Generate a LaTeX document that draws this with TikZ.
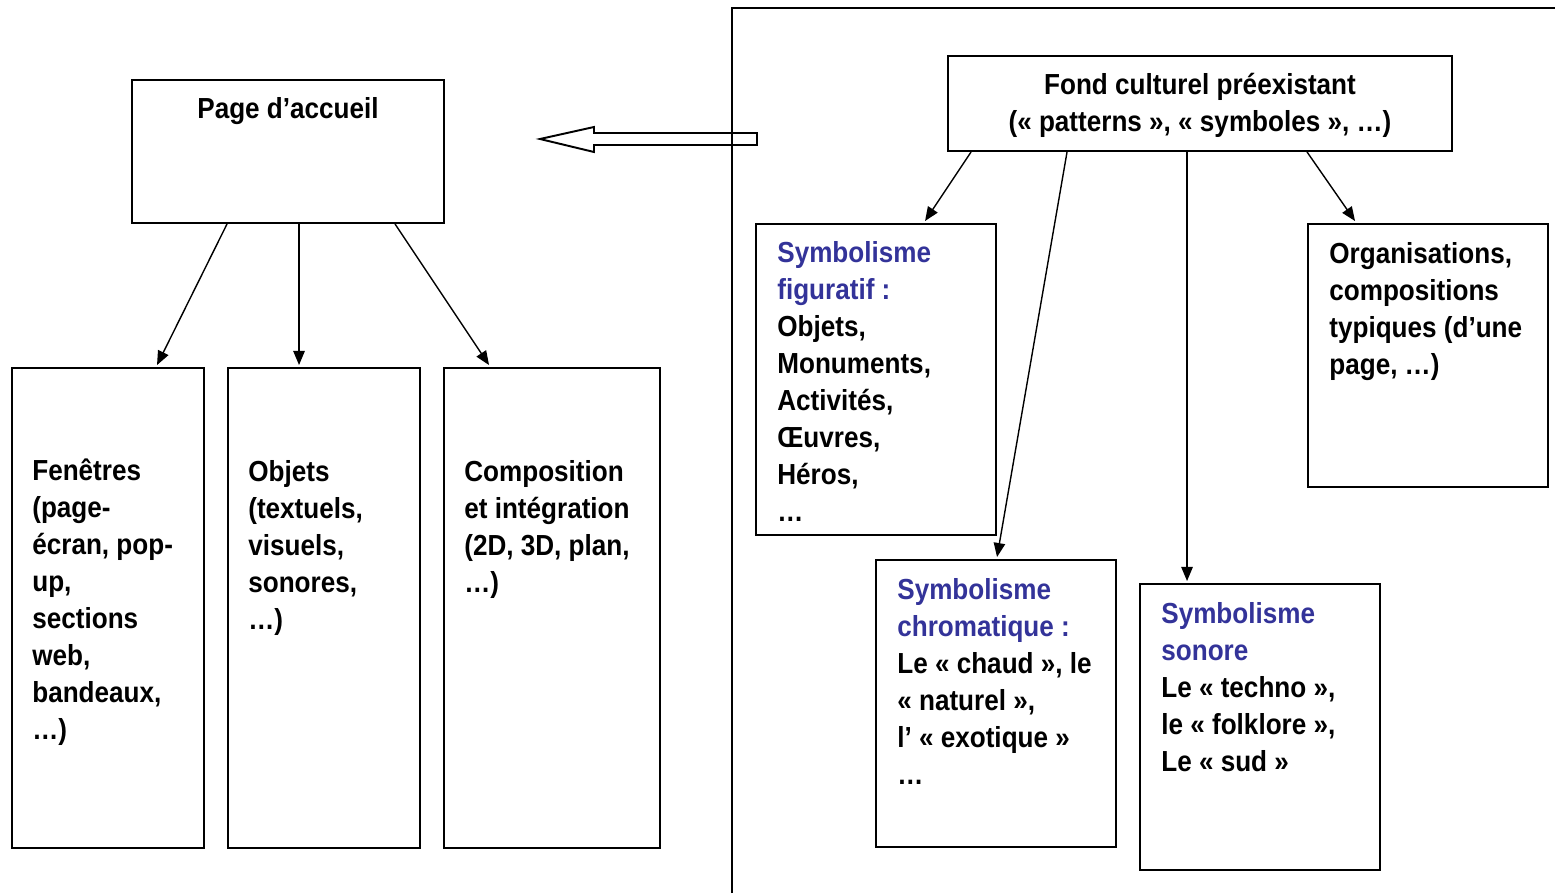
\documentclass[tikz,border=0pt]{standalone}
\usepackage{fontspec}
\setmainfont{Liberation Sans}[FakeStretch=0.9]
\usetikzlibrary{arrows.meta,calc,fit}
\definecolor{symblue}{RGB}{51,51,153}
\newcommand{\symb}[1]{\textcolor{symblue}{#1}}

\begin{document}
\begin{tikzpicture}[x=0.02cm,y=-0.02cm,
    box/.style={draw, line width=1.1pt, inner sep=0pt},
    txt/.style={inner sep=0pt, align=left, font=\fontsize{16.5}{21}\selectfont\bfseries},
    arr/.style={line width=0.8pt, -{Triangle[length=8pt,width=6.5pt]}}]
    \useasboundingbox (0,0) rectangle (1555,893);
    % left part (text nodes sit on the baseline of their last line)
    \node[box, fit={(132,80)(444,223)}] (accueil) {};
    \node[box, fit={(12,368)(204,848)}] (fen) {};
    \node[box, fit={(228,368)(420,848)}] (obj) {};
    \node[box, fit={(444,368)(660,848)}] (compo) {};
    \node[txt, align=center, anchor=base] (taccueil) at (288,118) {Page d’accueil};
    \node[txt, anchor=base west] (tfen) at (32,739) {Fenêtres\\(page-\\écran, pop-\\up,\\sections\\web,\\bandeaux,\\…)};
    \node[txt, anchor=base west] (tobj) at (248,629) {Objets\\(textuels,\\visuels,\\sonores,\\…)};
    \node[txt, anchor=base west] (tcompo) at (464,592) {Composition\\et intégration\\(2D, 3D, plan,\\…)};
    \draw[arr] ($(accueil.south west)+(96,0)$) -- ($(fen.north west)+(146,-2)$);
    \draw[arr] ($(accueil.south west)+(168,0)$) -- ($(obj.north west)+(72,-2)$);
    \draw[arr] ($(accueil.south west)+(264,0)$) -- ($(compo.north west)+(46,-2)$);
    % right part
    \draw[line width=1.1pt] (732,893) -- (732,8) -- (1555,8);
    \draw[line width=1.1pt] (757,133) -- (594,133) -- (594,127) -- (540,139)
        -- (594,152) -- (594,145) -- (757,145) -- cycle;
    \node[box, fit={(948,56)(1452,151)}] (fond) {};
    \node[box, fit={(756,224)(996,535)}] (fig) {};
    \node[box, fit={(1308,224)(1548,487)}] (orga) {};
    \node[box, fit={(876,560)(1116,847)}] (chrom) {};
    \node[box, fit={(1140,584)(1380,870)}] (son) {};
    \node[txt, align=center, anchor=base] (tfond) at (1200,131) {Fond culturel préexistant\\(«~patterns~», «~symboles~», …)};
    \node[txt, anchor=base west] (tfig) at (777,521) {\symb{Symbolisme}\\\symb{figuratif :}\\Objets,\\Monuments,\\Activités,\\Œuvres,\\Héros,\\…};
    \node[txt, anchor=base west] (torga) at (1329,374) {Organisations,\\compositions\\typiques (d’une\\page, …)};
    \node[txt, anchor=base west] (tchrom) at (897,784) {\symb{Symbolisme}\\\symb{chromatique :}\\Le «~chaud~», le\\«~naturel~»,\\l’ «~exotique~»\\…};
    \node[txt, anchor=base west] (tson) at (1161,771) {\symb{Symbolisme}\\\symb{sonore}\\Le «~techno~»,\\le «~folklore~»,\\Le «~sud~»};
    \draw[arr] ($(fond.south west)+(24,0)$) -- ($(fig.north west)+(170,-2)$);
    \draw[arr] ($(fond.south west)+(120,0)$) -- ($(chrom.north west)+(122,-2)$);
    \draw[arr] ($(fond.south west)+(240,0)$) -- ($(son.north west)+(48,-2)$);
    \draw[arr] ($(fond.south west)+(360,0)$) -- ($(orga.north west)+(48,-2)$);
\end{tikzpicture}
\end{document}
